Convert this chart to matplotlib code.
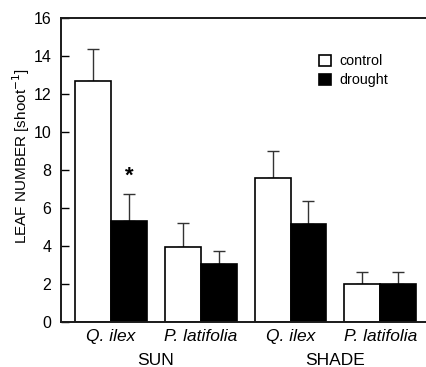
import matplotlib
matplotlib.use("Agg")
import matplotlib.pyplot as plt
from matplotlib.patches import Patch
from matplotlib.transforms import blended_transform_factory
import numpy as np

plt.rcParams['font.family'] = ['Liberation Sans', 'DejaVu Sans']

# data
species = ['Q. ilex', 'P. latifolia', 'Q. ilex', 'P. latifolia']
sites = ['SUN', 'SHADE']
control_mean = [12.7, 3.93, 7.58, 2.02]
control_se = [1.68, 1.26, 1.44, 0.60]
drought_mean = [5.32, 3.05, 5.14, 2.02]
drought_se = [1.43, 0.67, 1.24, 0.60]
signif = ['*', '', '', '']

fig = plt.figure(figsize=(4.27, 3.67), dpi=100)
ax = fig.add_axes([0.143, 0.1226, 0.857, 0.8284])

x = np.arange(len(species))
w = 0.4

#bars
ax.bar(x - w/2, control_mean, w, color='white', edgecolor='black', linewidth=1.2, zorder=2)
ax.bar(x + w/2, drought_mean, w, color='black', edgecolor='black', linewidth=1.2, zorder=2)

#error bars only going up
ax.errorbar(x - w/2, control_mean, yerr=[np.zeros(4), control_se], fmt='none',
            ecolor='#333333', elinewidth=1, capsize=4, capthick=1, zorder=1)
ax.errorbar(x + w/2, drought_mean, yerr=[np.zeros(4), drought_se], fmt='none',
            ecolor='#333333', elinewidth=1, capsize=4, capthick=1, zorder=1)

for i, s in enumerate(signif):
    if s:
        ax.text(x[i] + w/2, drought_mean[i] + drought_se[i] + 0.35, s,
                ha='center', va='bottom', fontsize=16, fontweight='bold')

ax.set_xlim(-0.556, 3.52)
ax.set_ylim(0, 16)
ax.set_yticks(range(0, 17, 2))
ax.tick_params(axis='y', direction='in', length=6, width=1, labelsize=11.5, pad=7)
ax.set_xticks(x)
ax.set_xticklabels(species, fontstyle='italic', fontsize=12.5)
ax.tick_params(axis='x', length=0, pad=5)

ax.spines['right'].set_visible(False)
for sp in ['left', 'top', 'bottom']:
    ax.spines[sp].set_linewidth(1.4)
    ax.spines[sp].set_color('#1a1a1a')

ax.set_ylabel('LEAF NUMBER [shoot$^{-1}$]', fontsize=11)
ax.yaxis.set_label_coords(-0.08, 0.545)

#site labels under the species
trans = blended_transform_factory(ax.transData, ax.transAxes)
for j, site in enumerate(sites):
    ax.text(x[2*j:2*j+2].mean(), -0.128, site, transform=trans,
            ha='center', va='center', fontsize=12.5)

handles = [Patch(facecolor='white', edgecolor='black', linewidth=1.2, label='control'),
           Patch(facecolor='black', edgecolor='black', linewidth=1.2, label='drought')]
ax.legend(handles=handles, loc='upper left', bbox_to_anchor=(0.69, 0.90), frameon=False,
          fontsize=10.3, handlelength=0.8, handleheight=0.8, handletextpad=0.6,
          labelspacing=0.35, borderaxespad=0)

fig.savefig('out.png', dpi=100)
